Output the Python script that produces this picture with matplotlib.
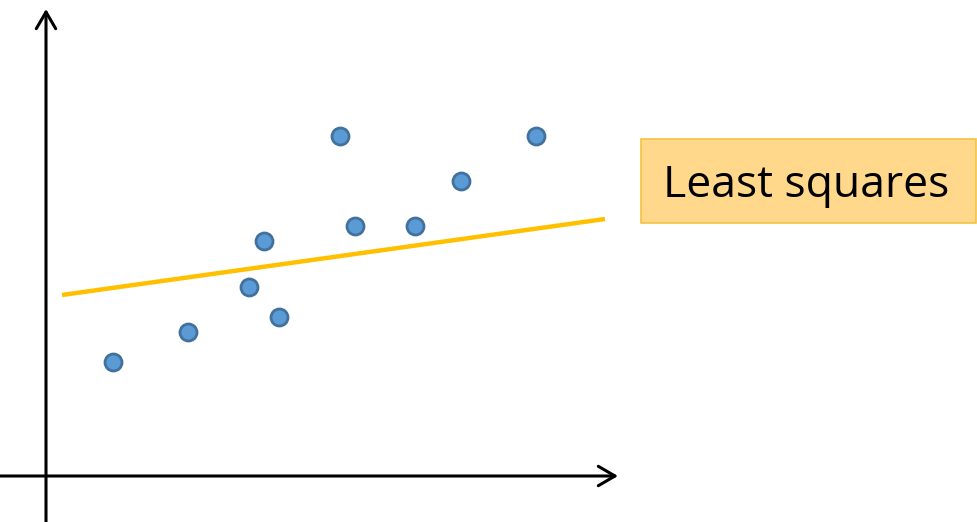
import matplotlib
matplotlib.use("Agg")
import matplotlib.pyplot as plt
from matplotlib.patches import FancyBboxPatch

# sample points (pixel-like units, y down)
xs = [113, 188, 249, 264, 279, 340, 355, 415, 461, 536]
ys = [362, 332, 287, 241, 317, 136, 226, 226, 181, 136]

# least squares line end points
line_x = [62, 605]
line_y = [295, 219]

label = "Least squares"

fig = plt.figure(figsize=(9.78, 5.22), dpi=100)
ax = fig.add_axes([0, 0, 1, 1])
ax.set_xlim(0, 978)
ax.set_ylim(522, 0)
ax.axis("off")

# axes arrows
arrow = dict(arrowstyle="->,head_length=1.2,head_width=0.7", lw=2.2, color="black",
             shrinkA=0, shrinkB=0)
ax.annotate("", xy=(46, 9), xytext=(46, 522), arrowprops=arrow)
ax.annotate("", xy=(618, 476), xytext=(0, 476), arrowprops=arrow)

ax.plot(line_x, line_y, color="#FFC000", lw=3.2, solid_capstyle="butt", zorder=2)
ax.scatter(xs, ys, s=150, color="#5B9BD5", edgecolors="#41719C", linewidths=2, zorder=3)

box = FancyBboxPatch((641, 139), 335, 84, boxstyle="square,pad=0",
                     facecolor="#FFD88C", edgecolor="#F5C242", lw=1.2)
ax.add_patch(box)
ax.text(806, 186, label, fontsize=32, family="Open Sans", ha="center", va="center",
        color="black")

fig.savefig("out.png", dpi=100)
